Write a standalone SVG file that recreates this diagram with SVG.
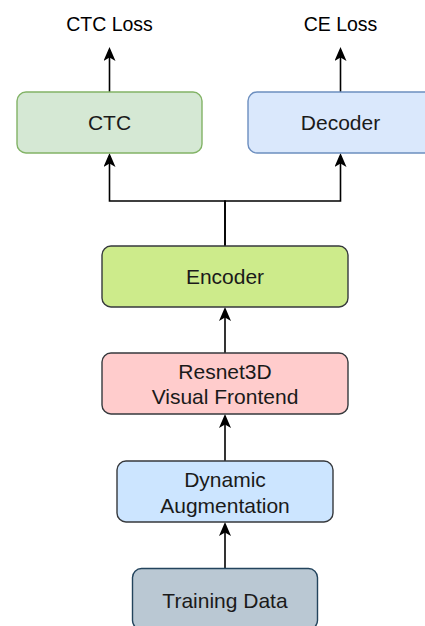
<svg xmlns="http://www.w3.org/2000/svg" width="425" height="626" viewBox="0 0 425 626">
<style>
.box{stroke-width:1.4}
.lbl{font-family:"Liberation Sans",Arial,sans-serif;font-size:21px;fill:#1a1a1a;text-anchor:middle}
.loss{font-family:"Liberation Sans",Arial,sans-serif;font-size:19.5px;fill:#000;text-anchor:middle}
.edge{fill:none;stroke:#000;stroke-width:1.6}
</style>
<defs>
<marker id="arr" viewBox="0 0 14 12" refX="11" refY="6" markerWidth="14" markerHeight="12" markerUnits="userSpaceOnUse" orient="auto">
<path d="M0,0 L14,6 L0,12 L3.5,6 Z" fill="#000"/>
</marker>
</defs>
<rect width="425" height="626" fill="#fff"/>
<g id="connectors">
<path class="edge" d="M109.5,92 V50" marker-end="url(#arr)"/>
<path class="edge" d="M340.5,92 V50" marker-end="url(#arr)"/>
<path class="edge" d="M225,246 V201 H109.5 V156" marker-end="url(#arr)"/>
<path class="edge" d="M225,246 V201 H340.5 V156" marker-end="url(#arr)"/>
<path class="edge" d="M225,353 V310" marker-end="url(#arr)"/>
<path class="edge" d="M225,461 V417" marker-end="url(#arr)"/>
<path class="edge" d="M225,568 V525" marker-end="url(#arr)"/>
</g>
<g id="ctc-loss"><text class="loss" x="109.5" y="31">CTC Loss</text></g>
<g id="ce-loss"><text class="loss" x="340.5" y="31">CE Loss</text></g>
<g id="ctc">
<rect class="box" x="17" y="92" width="185" height="61" rx="9" fill="#d5e8d4" stroke="#82b366"/>
<text class="lbl" x="109.5" y="130">CTC</text>
</g>
<g id="decoder">
<rect class="box" x="248" y="92" width="185" height="61" rx="9" fill="#dae8fc" stroke="#6c8ebf"/>
<text class="lbl" x="340.5" y="130">Decoder</text>
</g>
<g id="encoder">
<rect class="box" x="102" y="246" width="246" height="61" rx="9" fill="#cdeb8b" stroke="#36393d"/>
<text class="lbl" x="225" y="283.5">Encoder</text>
</g>
<g id="resnet3d">
<rect class="box" x="102" y="353" width="246" height="61" rx="9" fill="#ffcccc" stroke="#36393d"/>
<text class="lbl" x="225" y="378.5">Resnet3D</text>
<text class="lbl" x="225" y="404">Visual Frontend</text>
</g>
<g id="dynamic-augmentation">
<rect class="box" x="117" y="461" width="216" height="61" rx="9" fill="#cce5ff" stroke="#36393d"/>
<text class="lbl" x="225" y="487">Dynamic</text>
<text class="lbl" x="225" y="512.5">Augmentation</text>
</g>
<g id="training-data">
<rect class="box" x="132.5" y="568.5" width="185" height="61" rx="9" fill="#bac8d3" stroke="#23445d"/>
<text class="lbl" x="225" y="607.5">Training Data</text>
</g>
</svg>
